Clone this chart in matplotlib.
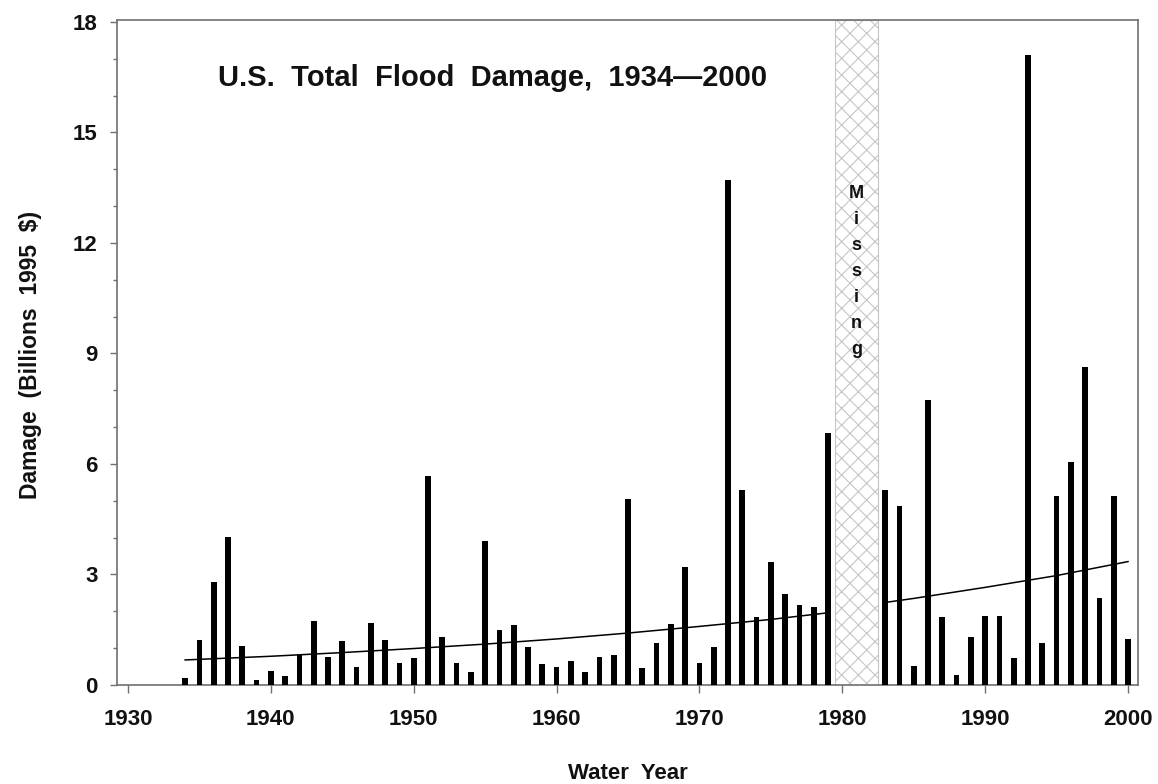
import matplotlib
matplotlib.use("Agg")
import matplotlib.pyplot as plt

# ---- data ----
years = list(range(1934, 1980)) + list(range(1983, 2001))
damage = [
    0.20, 1.22, 2.79, 4.03, 1.06, 0.14, 0.39, 0.24, 0.81, 1.75,   # 1934-1943
    0.77, 1.20, 0.48, 1.69, 1.22, 0.61, 0.73, 5.67, 1.31, 0.61,   # 1944-1953
    0.36, 3.90, 1.48, 1.63, 1.02, 0.56, 0.50, 0.66, 0.36, 0.77,   # 1954-1963
    0.82, 5.06, 0.47, 1.15, 1.66, 3.19, 0.59, 1.04, 13.72, 5.28,  # 1964-1973
    1.84, 3.33, 2.47, 2.18, 2.11, 6.83,                           # 1974-1979
    5.28, 4.87, 0.52, 7.73, 1.84, 0.27, 1.29, 1.86, 1.86, 0.72,   # 1983-1992
    17.10, 1.15, 5.12, 6.05, 8.62, 2.36, 5.12, 1.24,              # 1993-2000
]

trend_years_1 = [1934, 1940, 1945, 1950, 1955, 1960, 1965, 1970, 1975, 1979]
trend_vals_1 = [0.68, 0.78, 0.88, 0.99, 1.11, 1.25, 1.41, 1.59, 1.78, 1.96]
trend_years_2 = [1983, 1985, 1990, 1995, 2000]
trend_vals_2 = [2.24, 2.35, 2.65, 2.97, 3.35]

missing_start, missing_end = 1979.5, 1982.5
missing_label = "Missing"

title = "U.S.  Total  Flood  Damage,  1934\u20142000"
xlabel = "Water  Year"
ylabel = "Damage  (Billions  1995  $)"
xticks = [1930, 1940, 1950, 1960, 1970, 1980, 1990, 2000]
yticks = [0, 3, 6, 9, 12, 15, 18]

# ---- figure ----
plt.rcParams['font.family'] = ['Liberation Sans', 'DejaVu Sans']
plt.rcParams['font.weight'] = 'bold'
plt.rcParams['hatch.linewidth'] = 0.8

W, H = 1158, 784
fig = plt.figure(figsize=(W / 100, H / 100), dpi=100)
ax = fig.add_axes([117 / W, 1 - 685 / H, (1138 - 117) / W, 665 / H])

spine_col = '#707070'

# missing-data band
ax.axvspan(missing_start, missing_end, facecolor='white', edgecolor='#c6c6c6',
           hatch='xx', linewidth=0.8, zorder=1)
mid = (missing_start + missing_end) / 2
for i, ch in enumerate(missing_label):
    ax.annotate(ch, xy=(mid, 18.05), xycoords='data',
                xytext=(0, -128 - i * 18.7), textcoords='offset points',
                ha='center', va='baseline', fontsize=13, fontweight='bold',
                color='#111111', zorder=4)

# bars
ax.bar(years, damage, width=0.4, color='black', zorder=3)

# trend
ax.plot(trend_years_1, trend_vals_1, color='black', lw=1.1, zorder=4)
ax.plot(trend_years_2, trend_vals_2, color='black', lw=1.1, zorder=4)

ax.set_xlim(1929.23, 2000.7)
ax.set_ylim(0, 18.05)
ax.set_xticks(xticks)
ax.set_yticks(yticks)
ax.set_yticks(range(0, 19), minor=True)
ax.set_xticklabels([str(t) for t in xticks])
ax.set_yticklabels([str(t) for t in yticks])

for s in ax.spines.values():
    s.set_color(spine_col)
    s.set_linewidth(1.2)

ax.tick_params(axis='both', which='major', direction='out', color=spine_col,
               labelsize=16, width=1.0, labelcolor='#111111')
ax.tick_params(axis='x', which='major', length=6, pad=11)
ax.tick_params(axis='y', which='major', length=5, pad=9)
ax.tick_params(axis='y', which='minor', direction='out', length=3,
               color=spine_col, width=1.0)
ax.tick_params(axis='x', which='minor', bottom=False)

ax.set_xlabel(xlabel, fontsize=16, fontweight='bold', color='#111111')
ax.xaxis.set_label_coords(0.5, -0.118)
ax.set_ylabel(ylabel, fontsize=16.5, fontweight='bold', color='#111111')
ax.yaxis.set_label_coords(-0.073, 0.496)

fig.text(218 / W, 1 - 86 / H, title, fontsize=21, fontweight='bold',
         ha='left', va='baseline', color='#111111')

fig.savefig('out.png', dpi=100, facecolor='white')
